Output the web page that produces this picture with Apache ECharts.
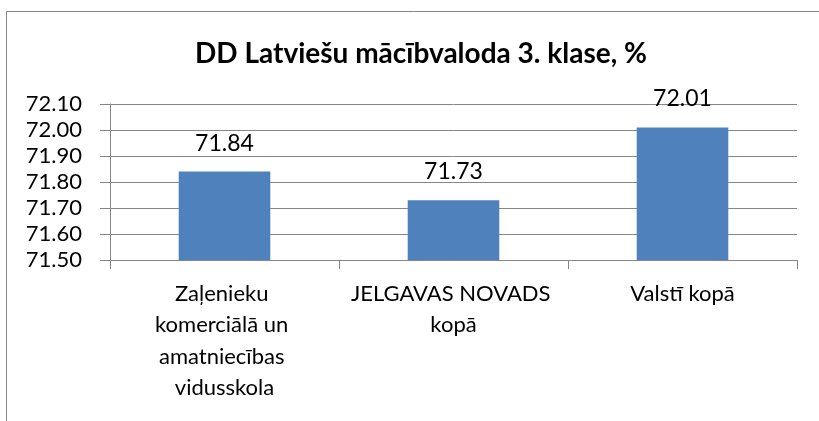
<!DOCTYPE html>
<html>
<head>
<meta charset="utf-8">
<title>DD Latviešu mācībvaloda 3. klase</title>
<script src="https://cdn.jsdelivr.net/npm/echarts@6/dist/echarts.min.js"></script>
<style>
    html, body { margin: 0; padding: 0; background: #fff; }
    #main { width: 819px; height: 421px; }
</style>
</head>
<body>
<div id="main"></div>
<script>
// kategorijas un vērtības
var categories = ['Zaļenieku komerciālā un amatniecības vidusskola', 'JELGAVAS NOVADS kopā', 'Valstī kopā'];
var values = [71.84, 71.73, 72.01];

var titleText = 'DD Latviešu mācībvaloda 3. klase, %';
var fontName = 'Lato';
var gridColor = '#868686';
var barColor = '#4F81BD';

var chart = echarts.init(document.getElementById('main'));

var option = {
    animation: false,
    title: {
        text: titleText,
        left: 416,
        textAlign: 'center',
        top: 35,
        textStyle: {
            fontFamily: fontName,
            fontSize: 28,
            fontWeight: 'bold',
            color: '#000'
        }
    },
    graphic: [{
        type: 'rect',
        shape: { x: 6.5, y: 11.5, width: 830, height: 440 },
        style: { fill: 'none', stroke: gridColor, lineWidth: 1 },
        silent: true
    }],
    grid: {
        left: 110,
        right: 22,
        top: 104,
        bottom: 161
    },
    xAxis: {
        type: 'category',
        data: categories,
        axisLine: { lineStyle: { color: gridColor, width: 1 } },
        axisTick: { show: true, length: 9, lineStyle: { color: gridColor } },
        axisLabel: {
            color: '#000',
            fontFamily: fontName,
            fontSize: 22,
            lineHeight: 31.5,
            margin: 18,
            width: 215,
            overflow: 'break',
            interval: 0
        }
    },
    yAxis: {
        type: 'value',
        min: 71.5,
        max: 72.1,
        interval: 0.1,
        axisLine: { show: true, lineStyle: { color: gridColor, width: 1 } },
        axisTick: { show: true, length: 10, lineStyle: { color: gridColor } },
        splitLine: { lineStyle: { color: gridColor, width: 1 } },
        axisLabel: {
            color: '#000',
            fontFamily: fontName,
            fontSize: 22,
            margin: 28,
            formatter: function (v) {
                return v.toFixed(2);
            }
        }
    },
    series: [{
        type: 'bar',
        data: values,
        barWidth: '40%',
        itemStyle: { color: barColor },
        label: {
            show: true,
            position: 'top',
            distance: 17,
            color: '#000',
            fontFamily: fontName,
            fontSize: 23,
            formatter: function (p) {
                return p.value.toFixed(2);
            }
        }
    }]
};

chart.setOption(option);
</script>
</body>
</html>
